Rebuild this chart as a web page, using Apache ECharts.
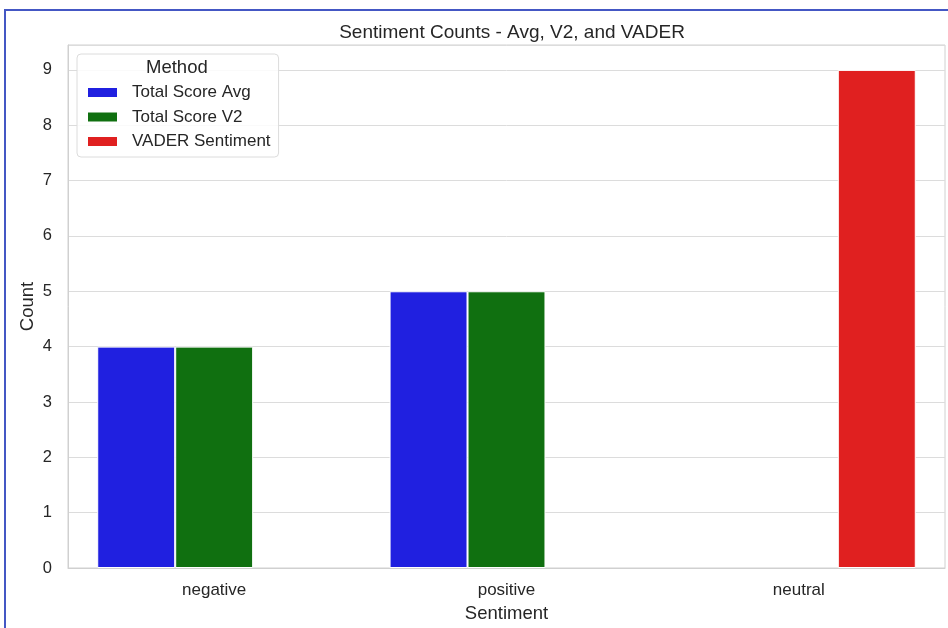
<!DOCTYPE html>
<html><head><meta charset="utf-8">
<script src="https://cdn.jsdelivr.net/npm/echarts@6/dist/echarts.min.js"></script>
<style>html,body{margin:0;padding:0;background:#fff}#c{width:948px;height:628px}</style>
</head><body><div id="c"></div>
<script>
const categories = ['negative', 'positive', 'neutral'];
const seriesNames = ['Total Score Avg', 'Total Score V2', 'VADER Sentiment'];
const avgCounts = [4, 5, 0];
const v2Counts = [4, 5, 0];
const vaderCounts = [0, 0, 9];
const yTicks = [0, 1, 2, 3, 4, 5, 6, 7, 8, 9];
const colors = ['#2020e0', '#107010', '#e02020'];

const chart = echarts.init(document.getElementById('c'), null, {renderer: 'canvas'});
const font = 'Liberation Sans, Arial, sans-serif';
const txt = '#262626';
const dataSets = [avgCounts, v2Counts, vaderCounts];
chart.setOption({
  animation: false,
  backgroundColor: '#fff',
  title: {
    text: 'Sentiment Counts - Avg, V2, and VADER',
    left: 507, top: 18, textAlign: 'center',
    textStyle: {fontFamily: font, fontWeight: 'normal', fontSize: 19, color: txt}
  },
  graphic: [
    {type: 'rect', shape: {x: 5, y: 10, width: 980, height: 660}, style: {fill: 'none', stroke: '#4457c4', lineWidth: 2}, silent: true},
    {type: 'text', left: 146, top: 58, z: 100, style: {text: 'Method', fontFamily: font, fontSize: 18.5, fill: txt}}
  ],
  legend: {
    orient: 'vertical', left: 77, top: 54,
    padding: [30, 8, 7, 9],
    backgroundColor: 'rgba(255,255,255,0.85)',
    borderColor: '#dcdcdc', borderWidth: 1, borderRadius: 4,
    itemWidth: 31, itemHeight: 11, itemGap: 7.5,
    icon: 'rect',
    textStyle: {fontFamily: font, fontSize: 17, color: txt, padding: [0, 0, 0, 9]},
    data: seriesNames
  },
  grid: {left: 68, right: 3, top: 45, bottom: 60, show: true, borderColor: '#d0d0d0', borderWidth: 1, containLabel: false},
  xAxis: {
    type: 'category', data: categories,
    axisLine: {show: true, lineStyle: {color: '#d0d0d0'}},
    axisTick: {show: false},
    axisLabel: {fontFamily: font, fontSize: 17, color: txt, margin: 14},
    name: 'Sentiment', nameLocation: 'middle', nameGap: 36, nameMoveOverlap: false,
    nameTextStyle: {fontFamily: font, fontSize: 18.5, color: txt}
  },
  yAxis: {
    type: 'value', min: 0, max: 9.45, interval: 1,
    axisLine: {show: true, lineStyle: {color: '#d0d0d0'}},
    axisTick: {show: false},
    splitLine: {lineStyle: {color: '#dcdcdc', width: 1}},
    axisLabel: {fontFamily: font, fontSize: 16.5, color: txt, margin: 16,
      formatter: v => yTicks.indexOf(v) >= 0 ? String(v) : ''},
    name: 'Count', nameLocation: 'middle', nameGap: 31, nameRotate: 90, nameMoveOverlap: false,
    nameTextStyle: {fontFamily: font, fontSize: 18.5, color: txt}
  },
  series: seriesNames.map((n, i) => ({
    name: n, type: 'bar',
    data: dataSets[i].map(v => ({value: v, itemStyle: v === 0 ? {borderWidth: 0} : {}})),
    barGap: '0%', barCategoryGap: '20%',
    itemStyle: {color: colors[i], borderColor: '#fff', borderWidth: 1}
  }))
});
</script></body></html>
